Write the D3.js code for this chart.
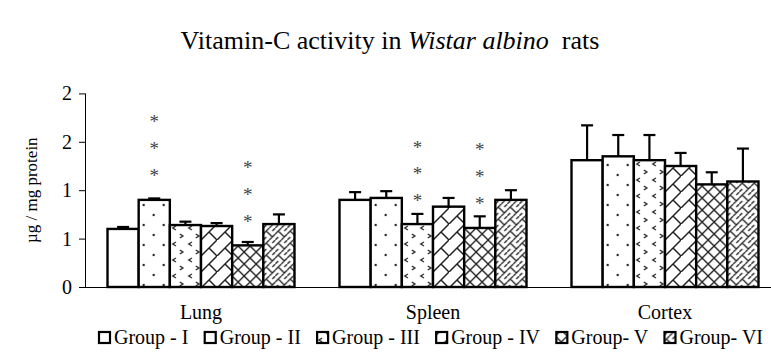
<!DOCTYPE html>
<html lang="en">
<head>
<meta charset="utf-8">
<title>Vitamin-C activity</title>
<script src="https://d3js.org/d3.v7.min.js"></script>
<style>
  body { margin: 0; background: #fff; }
  svg { display: block; font-family: "Liberation Serif", "Times New Roman", serif; }
</style>
</head>
<body>
<script>
// categories and groups
var tissues = ["Lung", "Spleen", "Cortex"]
var groups = ["Group - I", "Group - II", "Group - III", "Group - IV", "Group- V", "Group- VI"]

// mean values, one array per group (Lung, Spleen, Cortex)
var groupI   = [0.60, 0.90, 1.31]
var groupII  = [0.90, 0.92, 1.35]
var groupIII = [0.64, 0.65, 1.31]
var groupIV  = [0.63, 0.83, 1.25]
var groupV   = [0.43, 0.61, 1.06]
var groupVI  = [0.65, 0.90, 1.09]

// error (SD) values, same order
var errI   = [0.02, 0.08, 0.36]
var errII  = [0.015, 0.07, 0.22]
var errIII = [0.035, 0.105, 0.26]
var errIV  = [0.03, 0.09, 0.135]
var errV   = [0.035, 0.12, 0.125]
var errVI  = [0.10, 0.10, 0.34]

// significance marks: tissue, group index, level of lowest star
var stars = [
  { tissue: "Lung", group: 1, level: 1.19 },
  { tissue: "Lung", group: 4, level: 0.715 },
  { tissue: "Spleen", group: 2, level: 0.93 },
  { tissue: "Spleen", group: 4, level: 0.90 }
]

var yTicks = [0, 0.5, 1, 1.5, 2]

var drawChart = function () {
  var values = [groupI, groupII, groupIII, groupIV, groupV, groupVI]
  var errors = [errI, errII, errIII, errIV, errV, errVI]

  var w = 771
  var h = 358

  var svg = d3.select("body").append("svg")
    .attr("width", w)
    .attr("height", h)

  // ---- fill patterns ----
  var defs = svg.append("defs")
  var ink = "#222"

  function pattern(id, size) {
    var p = defs.append("pattern")
      .attr("id", id)
      .attr("patternUnits", "userSpaceOnUse")
      .attr("width", size)
      .attr("height", size)
    p.append("rect").attr("width", size).attr("height", size).attr("fill", "#fff")
    return p
  }

  // dots
  var p1 = pattern("pat1", 20)
  p1.append("circle").attr("cx", 5).attr("cy", 5).attr("r", 1.2).attr("fill", ink)
  p1.append("circle").attr("cx", 15).attr("cy", 15).attr("r", 1.2).attr("fill", ink)

  // little chevrons
  var p2 = pattern("pat2", 16)
  p2.append("path").attr("d", "M6,2 L3,4 L6,6").attr("fill", "none").attr("stroke", ink).attr("stroke-width", 1.4)
  p2.append("path").attr("d", "M10,10 L13,12 L10,14").attr("fill", "none").attr("stroke", ink).attr("stroke-width", 1.4)

  // diagonal brick
  var p3 = pattern("pat3", 16)
  p3.append("path").attr("d", "M-2,18 L18,-2 M8,8 L16,16").attr("stroke", ink).attr("stroke-width", 1.5)

  // diagonal cross
  var p4 = pattern("pat4", 12)
  p4.append("path").attr("d", "M-1,-1 L13,13 M13,-1 L-1,13").attr("stroke", ink).attr("stroke-width", 1.4)

  // weave
  var p5 = pattern("pat5", 12)
  p5.append("path")
    .attr("d", "M0,6 L6,0 M6,12 L12,6 M3,3 L9,9 M9,3 L12,0 M0,12 L3,9")
    .attr("stroke", ink).attr("stroke-width", 1.3).attr("fill", "none")

  var fills = ["#fff", "url(#pat1)", "url(#pat2)", "url(#pat3)", "url(#pat4)", "url(#pat5)"]

  // ---- scales ----
  var left = 85, right = 781
  var plotTop = 93.4, plotBottom = 287

  var x0 = d3.scaleBand()
    .domain(tissues)
    .range([left, right])
    .paddingInner(0.194)
    .paddingOuter(0.097)

  var x1 = d3.scaleBand()
    .domain(d3.range(groups.length))
    .range([0, x0.bandwidth()])

  var y = d3.scaleLinear()
    .domain([0, 2])
    .range([plotBottom, plotTop])

  // ---- title ----
  var title = svg.append("text")
    .attr("x", 390)
    .attr("y", 49)
    .attr("text-anchor", "middle")
    .attr("font-size", 26)
  title.append("tspan").text("Vitamin-C activity in ")
  title.append("tspan").attr("font-style", "italic").text("Wistar albino")
  title.append("tspan").text("\u00a0 rats")

  // ---- y axis ----
  var yAxis = d3.axisLeft(y)
    .tickValues(yTicks)
    .tickSize(6)
    .tickFormat(d3.format(".0f"))

  var gy = svg.append("g")
    .attr("transform", "translate(" + left + ",0)")
    .call(yAxis)
  gy.select(".domain").attr("stroke", "#000").attr("d", "M0.5," + plotTop + "V" + plotBottom)
  gy.selectAll(".tick line").attr("stroke", "#000")
  gy.selectAll(".tick text")
    .attr("font-family", "Liberation Serif, Times New Roman, serif")
    .attr("font-size", 20)
    .attr("fill", "#000")
    .attr("x", -13)

  svg.append("text")
    .attr("transform", "translate(37," + ((plotTop + plotBottom) / 2) + ") rotate(-90)")
    .attr("text-anchor", "middle")
    .attr("font-size", 17)
    .text("\u00b5g / mg protein")

  // ---- bars ----
  var cells = []
  tissues.forEach(function (t, ti) {
    groups.forEach(function (g, gi) {
      cells.push({ tissue: t, group: gi, value: values[gi][ti], err: errors[gi][ti] })
    })
  })

  var bw = x1.bandwidth()

  var bar = svg.selectAll("g.cell")
    .data(cells)
    .enter()
    .append("g")
    .attr("class", "cell")
    .attr("transform", function (d) { return "translate(" + (x0(d.tissue) + x1(d.group)) + ",0)" })

  // error bars (upper half only)
  bar.append("line")
    .attr("x1", bw / 2).attr("x2", bw / 2)
    .attr("y1", function (d) { return y(d.value) })
    .attr("y2", function (d) { return y(d.value + d.err) })
    .attr("stroke", "#000").attr("stroke-width", 2.2)
  bar.append("line")
    .attr("x1", bw / 2 - 6).attr("x2", bw / 2 + 6)
    .attr("y1", function (d) { return y(d.value + d.err) })
    .attr("y2", function (d) { return y(d.value + d.err) })
    .attr("stroke", "#000").attr("stroke-width", 2.2)

  bar.append("rect")
    .attr("x", 0)
    .attr("width", bw)
    .attr("y", function (d) { return y(d.value) })
    .attr("height", function (d) { return y(0) - y(d.value) })
    .attr("fill", function (d) { return fills[d.group] })
    .attr("stroke", "#000")
    .attr("stroke-width", 2.4)

  // x axis line
  svg.append("line")
    .attr("x1", left).attr("x2", right)
    .attr("y1", plotBottom + 0.5).attr("y2", plotBottom + 0.5)
    .attr("stroke", "#000")

  // ---- stars ----
  stars.forEach(function (s) {
    var cx = x0(s.tissue) + x1(s.group) + bw / 2
    for (var k = 0; k < 3; k++) {
      svg.append("text")
        .attr("x", cx)
        .attr("y", y(s.level) - k * 26.7 + 10)
        .attr("text-anchor", "middle")
        .attr("font-size", 19)
        .attr("fill", "#444")
        .text("*")
    }
  })

  // ---- category labels ----
  svg.selectAll("text.cat")
    .data(tissues)
    .enter()
    .append("text")
    .attr("class", "cat")
    .attr("x", function (d) { return x0(d) + x0.bandwidth() / 2 })
    .attr("y", 319)
    .attr("text-anchor", "middle")
    .attr("font-size", 20)
    .text(function (d) { return d })

  // ---- legend ----
  // one row spread from x=98 to x=763
  var legend = svg.append("g")
  var items = groups.map(function (g, gi) {
    var item = legend.append("g")
    item.append("rect")
      .attr("x", 1).attr("y", 332)
      .attr("width", 11).attr("height", 11)
      .attr("fill", fills[gi])
      .attr("stroke", "#000").attr("stroke-width", 2.2)
    var t = item.append("text")
      .attr("x", 16).attr("y", 344)
      .attr("font-size", 20)
      .text(g)
    return { node: item, width: 16 + t.node().getComputedTextLength() }
  })
  var used = d3.sum(items, function (d) { return d.width })
  var gap = (763 - 98 - used) / (items.length - 1)
  var lx = 98
  items.forEach(function (it) {
    it.node.attr("transform", "translate(" + lx + ",0)")
    lx += it.width + gap
  })
}

drawChart()
</script>
</body>
</html>
